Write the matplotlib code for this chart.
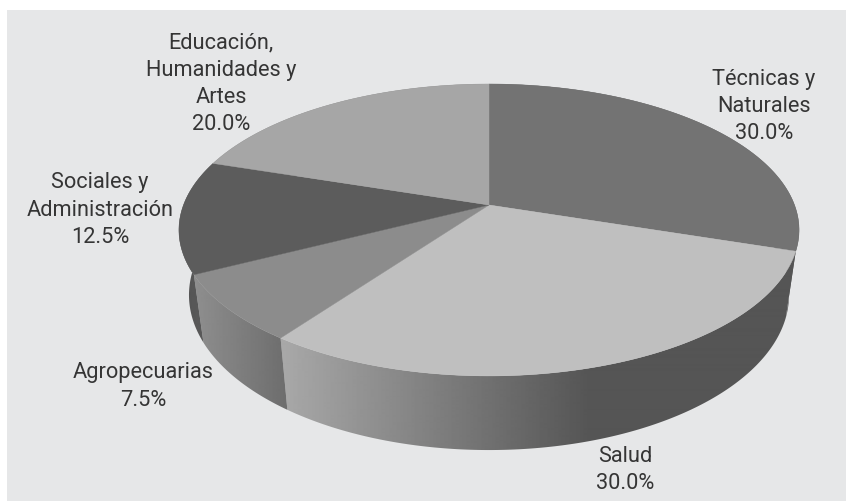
import numpy as np
import matplotlib
matplotlib.use("Agg")
import matplotlib.pyplot as plt
from matplotlib.patches import Polygon, Rectangle

# Shares of the pie, clockwise from 12 o'clock
categories = ["Técnicas y\nNaturales", "Salud", "Agropecuarias",
              "Sociales y\nAdministración", "Educación,\nHumanidades y\nArtes"]
shares = [30.0, 30.0, 7.5, 12.5, 20.0]

# --- styling ---
top_colors = ["#737373", "#bfbfbf", "#8c8c8c", "#5c5c5c", "#a6a6a6"]
# grey level of the side wall at (x_left, x_right) of the gradient
side_stops = [((600, 800), (85, 85)), ((284, 590), (168, 85)), ((196, 285), (142, 110)),
              ((180, 215), (84, 92)), ((180, 215), (120, 120))]
label_pos = [(764, 106.5), (625, 470), (143, 386.5), (100, 210), (221, 84)]
BG = "#e6e7e8"
TEXT = "#353535"

CX = 489
PERSP = 0.171


def project(theta, cy, a, b):
    # theta in radians, clockwise from the back of the pie, with a bit of perspective
    u = np.sin(theta)
    v = np.cos(theta)
    w = 1 + PERSP * v
    return CX + b * u / w, cy - a * v / w


def top_rim(theta):
    return project(theta, 205, 141.7, 305.5)


def bottom_rim(theta):
    return project(theta, 268.5, 150.5, 295.6)


fig = plt.figure(figsize=(8.46, 5.01), dpi=100)
ax = fig.add_axes([0, 0, 1, 1])
ax.axis("off")
ax.add_patch(Rectangle((7, 10), 839, 491, facecolor=BG, edgecolor="none", zorder=0))

edges = np.radians(np.cumsum([0] + shares) * 3.6)

# side walls first: a horizontal gradient image clipped to each wall
xs = np.arange(170, 810)
for i in range(len(shares)):
    t = np.linspace(edges[i], edges[i + 1], 200)
    x1, y1 = top_rim(t)
    x2, y2 = bottom_rim(t)
    wall = Polygon(np.column_stack([np.r_[x1, x2[::-1]], np.r_[y1, y2[::-1]]]), closed=True,
                   facecolor="none", edgecolor="none", transform=ax.transData)
    ax.add_patch(wall)
    (xa, xb), (ga, gb) = side_stops[i]
    grad = np.interp(xs, [xa, xb], [ga, gb]).reshape(1, -1)
    im = ax.imshow(grad, cmap="gray", vmin=0, vmax=255, extent=(170, 810, 480, 60),
                   aspect="auto", interpolation="bilinear", zorder=1)
    im.set_clip_path(wall)

# top face
for i in range(len(shares)):
    t = np.linspace(edges[i], edges[i + 1], 200)
    x, y = top_rim(t)
    pts = np.column_stack([np.r_[CX, x], np.r_[205, y]])
    ax.add_patch(Polygon(pts, closed=True, facecolor=top_colors[i], edgecolor=top_colors[i],
                         linewidth=0.3, zorder=2))

for name, val, (lx, ly) in zip(categories, shares, label_pos):
    ax.text(lx, ly, f"{name}\n{val:.1f}%", ha="center", va="center", fontsize=15.7,
            family="Roboto", color=TEXT, linespacing=1.38, zorder=3)

ax.set_xlim(0, 846)
ax.set_ylim(501, 0)
fig.savefig("out.png", dpi=100)
